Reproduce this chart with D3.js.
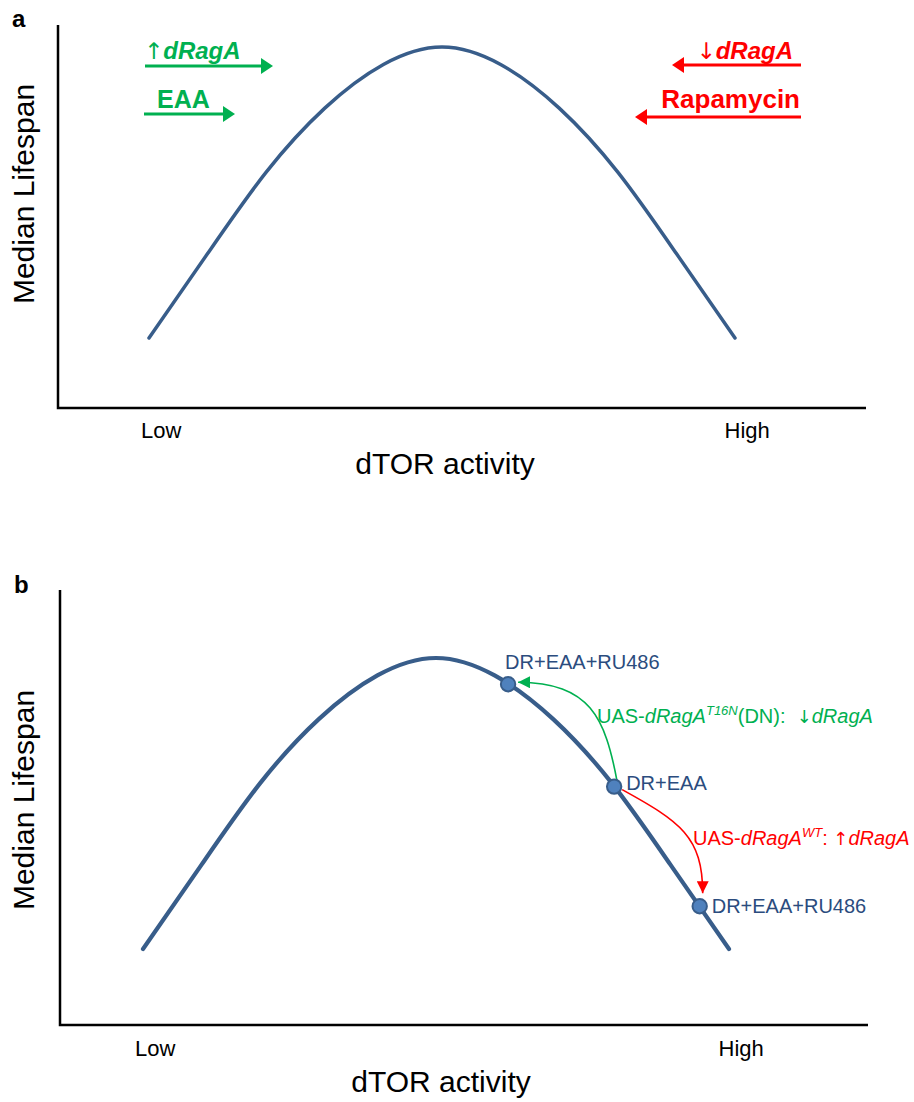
<!DOCTYPE html>
<html>
<head>
<meta charset="utf-8">
<script src="https://cdn.jsdelivr.net/npm/d3@7"></script>
<style>
  html, body { margin: 0; padding: 0; background: #fff; }
  svg { display: block; font-family: Arial, "Liberation Sans", sans-serif; }
</style>
</head>
<body>
<svg id="fig" width="914" height="1102"></svg>
<script>
// Conceptual lifespan vs. dTOR activity curve (normalised units, 0..1)
const activity = [0, 0.1, 0.2, 0.3, 0.4, 0.5, 0.6, 0.7, 0.8, 0.9, 1.0];
const lifespan = [0, 0.29, 0.57, 0.79, 0.94, 1.0, 0.94, 0.79, 0.57, 0.29, 0];

// Axis tick labels
const tickPositions = [0.02, 1.02];
const tickLabels = ["Low", "High"];

// Panel b conditions placed on the curve
const conditionNames = ["DR+EAA+RU486", "DR+EAA", "DR+EAA+RU486"];
const conditionActivity = [0.623, 0.804, 0.950];
const conditionLifespan = [0.910, 0.558, 0.147];

const curveColor = "#385D8A";
const pointFill = "#4F81BD";
const labelBlue = "#2B4C7E";
const green = "#00B050";
const red = "#FF0000";
const arrowFont = "'DejaVu Sans', sans-serif";

const svg = d3.select("#fig");

// Arrowhead markers for the curved annotations in panel b
const defs = svg.append("defs");
[["headGreen", green], ["headRed", red]].forEach(([id, c]) => {
  defs.append("marker")
    .attr("id", id)
    .attr("markerUnits", "userSpaceOnUse")
    .attr("viewBox", "0 -6 12 12")
    .attr("refX", 12).attr("refY", 0)
    .attr("markerWidth", 12).attr("markerHeight", 12)
    .attr("orient", "auto")
    .append("path")
    .attr("d", "M0,-6L12,0L0,6Z")
    .attr("fill", c);
});

const curveData = activity.map((a, i) => ({ a, l: lifespan[i] }));

function drawPanel(cfg) {
  const g = svg.append("g");
  const x = d3.scaleLinear().domain([0, 1]).range(cfg.xRange);
  const y = d3.scaleLinear().domain([0, 1]).range(cfg.yRange);

  // Frame (left and bottom axis lines)
  g.append("path")
    .attr("d", `M${cfg.frame.left},${cfg.frame.top}V${cfg.frame.bottom}H${cfg.frame.right}`)
    .attr("fill", "none")
    .attr("stroke", "#000")
    .attr("stroke-width", 2.5);

  // Low / High tick labels
  const axis = d3.axisBottom(x)
    .tickValues(tickPositions)
    .tickFormat((d, i) => tickLabels[i])
    .tickSize(0)
    .tickPadding(0);
  const ax = g.append("g")
    .attr("transform", `translate(0,${cfg.frame.bottom})`)
    .call(axis);
  ax.select(".domain").remove();
  ax.selectAll("text")
    .attr("font-family", "Arial, 'Liberation Sans', sans-serif")
    .attr("font-size", 22)
    .attr("fill", "#000")
    .attr("dy", null)
    .attr("y", cfg.tickBaseline - cfg.frame.bottom);

  // Axis titles
  g.append("text")
    .attr("x", cfg.xTitle[0]).attr("y", cfg.xTitle[1])
    .attr("text-anchor", "middle")
    .attr("font-size", 30)
    .attr("fill", "#000")
    .text("dTOR activity");
  g.append("text")
    .attr("transform", `translate(${cfg.yTitle[0]},${cfg.yTitle[1]}) rotate(-90)`)
    .attr("text-anchor", "middle")
    .attr("font-size", 30)
    .attr("fill", "#000")
    .text("Median Lifespan");

  // Panel letter
  g.append("text")
    .attr("x", cfg.letterPos[0]).attr("y", cfg.letterPos[1])
    .attr("font-size", 24)
    .attr("font-weight", "bold")
    .attr("fill", "#000")
    .text(cfg.letter);

  // Lifespan curve
  const line = d3.line()
    .x(d => x(d.a))
    .y(d => y(d.l))
    .curve(d3.curveNatural);
  g.append("path")
    .datum(curveData)
    .attr("d", line)
    .attr("fill", "none")
    .attr("stroke", curveColor)
    .attr("stroke-width", cfg.curveWidth)
    .attr("stroke-linecap", "round");

  return { g, x, y };
}

// ---------- Panel a ----------
const pa = drawPanel({
  letter: "a",
  letterPos: [12, 27],
  xRange: [149, 735],
  yRange: [338, 47],
  frame: { left: 58, top: 25, bottom: 408, right: 866 },
  tickBaseline: 438,
  xTitle: [445, 474],
  yTitle: [34, 194],
  curveWidth: 3.5
});

// Straight annotation arrows with bold labels
function straightArrow(g, x1, x2, yy, color) {
  const dir = Math.sign(x2 - x1);
  const headLen = 12, headHalf = 8;
  g.append("line")
    .attr("x1", x1).attr("x2", x2 - dir * headLen)
    .attr("y1", yy).attr("y2", yy)
    .attr("stroke", color).attr("stroke-width", 3.2);
  g.append("path")
    .attr("d", `M${x2},${yy}L${x2 - dir * headLen},${yy - headHalf}L${x2 - dir * headLen},${yy + headHalf}Z`)
    .attr("fill", color);
}

const annoA = pa.g.append("g");
// increase dRagA / EAA -> higher dTOR activity
const upLabel = annoA.append("text")
  .attr("x", 144).attr("y", 59)
  .attr("font-size", 24).attr("font-weight", "bold").attr("fill", green);
upLabel.append("tspan").attr("font-weight", "normal").attr("font-family", arrowFont).attr("font-size", 23).text("↑");
upLabel.append("tspan").attr("font-style", "italic").text("dRagA");
straightArrow(annoA, 145, 273, 66, green);

annoA.append("text")
  .attr("x", 157).attr("y", 108)
  .attr("font-size", 25).attr("font-weight", "bold").attr("fill", green)
  .text("EAA");
straightArrow(annoA, 144, 235, 114, green);

// decrease dRagA / Rapamycin -> lower dTOR activity
const downLabel = annoA.append("text")
  .attr("x", 793).attr("y", 59)
  .attr("text-anchor", "end")
  .attr("font-size", 24).attr("font-weight", "bold").attr("fill", red);
downLabel.append("tspan").attr("font-weight", "normal").attr("font-family", arrowFont).attr("font-size", 23).text("↓");
downLabel.append("tspan").attr("font-style", "italic").text("dRagA");
straightArrow(annoA, 801, 672, 65, red);

annoA.append("text")
  .attr("x", 800).attr("y", 108)
  .attr("text-anchor", "end")
  .attr("font-size", 26).attr("font-weight", "bold").attr("fill", red)
  .text("Rapamycin");
straightArrow(annoA, 801, 635, 117, red);

// ---------- Panel b ----------
const pb = drawPanel({
  letter: "b",
  letterPos: [14, 593],
  xRange: [143, 729],
  yRange: [949, 658],
  frame: { left: 60, top: 590, bottom: 1025, right: 868 },
  tickBaseline: 1056,
  xTitle: [441, 1092],
  yTitle: [34, 800],
  curveWidth: 4.2
});

const pts = conditionActivity.map((a, i) => ({
  name: conditionNames[i],
  px: pb.x(a),
  py: pb.y(conditionLifespan[i])
}));
const [pUp, pMid, pDown] = pts;

// Curved transition arrows between conditions
pb.g.append("path")
  .attr("d", `M${pMid.px + 3},${pMid.py - 5}C${pMid.px - 9},${pMid.py - 69} ${pMid.px - 24},${pMid.py - 104} ${pUp.px + 10},${pUp.py - 2}`)
  .attr("fill", "none")
  .attr("stroke", green).attr("stroke-width", 1.6)
  .attr("marker-end", "url(#headGreen)");

pb.g.append("path")
  .attr("d", `M${pMid.px + 8},${pMid.py + 3}C${pMid.px + 66},${pMid.py + 35} ${pDown.px + 3},${pMid.py + 50} ${pDown.px + 3},${pDown.py - 13}`)
  .attr("fill", "none")
  .attr("stroke", red).attr("stroke-width", 1.6)
  .attr("marker-end", "url(#headRed)");

// Condition points
pb.g.selectAll("circle.cond")
  .data(pts)
  .join("circle")
  .attr("class", "cond")
  .attr("cx", d => d.px).attr("cy", d => d.py)
  .attr("r", 7.2)
  .attr("fill", pointFill)
  .attr("stroke", curveColor)
  .attr("stroke-width", 2);

// Condition labels
const labelOffsets = [[-3, -15], [12, 3], [12, 7]];
pb.g.selectAll("text.cond")
  .data(pts)
  .join("text")
  .attr("class", "cond")
  .attr("x", (d, i) => d.px + labelOffsets[i][0])
  .attr("y", (d, i) => d.py + labelOffsets[i][1])
  .attr("font-size", 20)
  .attr("fill", labelBlue)
  .text(d => d.name);

// Genotype annotations on the arrows
const gLab = pb.g.append("text")
  .attr("x", 597).attr("y", 723)
  .attr("font-size", 20).attr("fill", green);
gLab.append("tspan").text("UAS-");
gLab.append("tspan").attr("font-style", "italic").text("dRagA");
gLab.append("tspan").attr("font-style", "italic").attr("font-size", 13).attr("dy", -8).text("T16N");
gLab.append("tspan").attr("dy", 8).text("(DN):\u00A0\u00A0");
gLab.append("tspan").attr("font-family", arrowFont).attr("font-size", 18).text("↓");
gLab.append("tspan").attr("font-style", "italic").text("dRagA");

const rLab = pb.g.append("text")
  .attr("x", 693).attr("y", 845)
  .attr("font-size", 20).attr("fill", red);
rLab.append("tspan").text("UAS-");
rLab.append("tspan").attr("font-style", "italic").text("dRagA");
rLab.append("tspan").attr("font-style", "italic").attr("font-size", 13).attr("dy", -8).text("WT");
rLab.append("tspan").attr("dy", 8).text(":\u00A0");
rLab.append("tspan").attr("font-family", arrowFont).attr("font-size", 18).text("↑");
rLab.append("tspan").attr("font-style", "italic").text("dRagA");
</script>
</body>
</html>
